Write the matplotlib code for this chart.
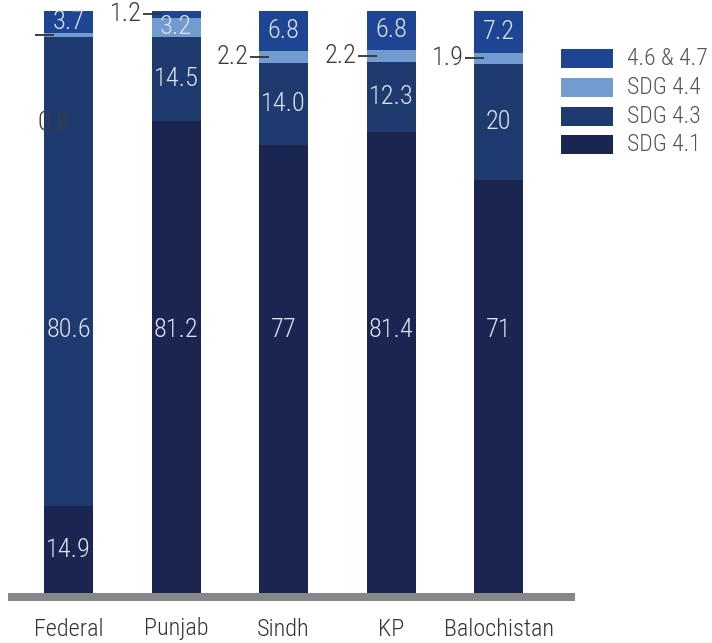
import matplotlib
matplotlib.use('Agg')
import matplotlib.pyplot as plt
from matplotlib.patches import Rectangle
from matplotlib import font_manager
import numpy as np

# ---------------- data ----------------
categories = ['Federal', 'Punjab', 'Sindh', 'KP', 'Balochistan']
series_names = ['SDG 4.1', 'SDG 4.3', 'SDG 4.4', '4.6 & 4.7']
sdg41 = [14.9, 81.2, 77, 81.4, 71]
sdg43 = [80.6, 14.5, 14.0, 12.3, 20]
sdg44 = [0.8, 3.2, 2.2, 2.2, 1.9]
sdg4647 = [3.7, 1.2, 6.8, 6.8, 7.2]
series_values = [sdg41, sdg43, sdg44, sdg4647]

# ---------------- style ----------------
colors = ['#1a2651', '#1f3a6f', '#729bd2', '#1d4593']
names = {f.name for f in font_manager.fontManager.ttflist}
cands = ['Roboto Condensed', 'Liberation Sans Narrow', 'Roboto', 'DejaVu Sans']
FONT = [c for c in cands if c in names] or ['DejaVu Sans']
plt.rcParams['font.family'] = FONT
WEIGHT = 'light'

W, H, DPI = 712, 643, 100
fig = plt.figure(figsize=(W / DPI, H / DPI), dpi=DPI)
ax_left, ax_bottom, ax_w, ax_h = 8, 50, 567, 582   # pixels
ax = fig.add_axes([ax_left / W, ax_bottom / H, ax_w / W, ax_h / H])

spacing_px = 107.5
center0_px = 68.5
x_lo = -(center0_px - ax_left) / spacing_px
x_hi = x_lo + ax_w / spacing_px
ax.set_xlim(x_lo, x_hi)
ax.set_ylim(0, 100)
ax.axis('off')

bw = 49 / spacing_px
px_x = 1 / spacing_px          # one pixel in data-x
px_y = 100 / ax_h              # one pixel in data-y

x = np.arange(len(categories))
totals = np.sum(np.array(series_values, dtype=float), axis=0)
bottoms = np.zeros(len(categories))

label_color_in = '#dfe5f0'
label_color_out = '#3c3c3c'
fs_val = 19

for s, (name, vals) in enumerate(zip(series_names, series_values)):
    vals = np.array(vals, dtype=float)
    heights = vals / totals * 100
    ax.bar(x, heights, bw, bottom=bottoms, color=colors[s], linewidth=0)
    for i, v in enumerate(vals):
        txt = str(series_values[s][i])
        yc = bottoms[i] + heights[i] / 2
        if v >= 2.5:
            if heights[i] > 50:
                yc = (593 - 330) * px_y
            ax.text(x[i], yc, txt, ha='center', va='center', color=label_color_in,
                    fontsize=fs_val, fontweight=WEIGHT)
        else:
            left = x[i] - bw / 2
            ax.plot([left - 9 * px_x, left + 10 * px_x], [yc, yc], color='#333333',
                    lw=1.3, solid_capstyle='butt', clip_on=False)
            if i == 0:
                tx, ty, ha = left - 9 * px_x + 18 * px_x, yc - 88 * px_y, 'center'
            else:
                tx, ty, ha = left - 10 * px_x, yc, 'right'
            ax.text(tx, ty, txt, ha=ha, va='center', color=label_color_out,
                    fontsize=fs_val, fontweight=WEIGHT, clip_on=False)
    bottoms += heights

# baseline
ax.add_patch(Rectangle((0, -8 / ax_h), 1, 8 / ax_h, transform=ax.transAxes,
                       color='#868789', linewidth=0, clip_on=False))

# category labels
for i, c in enumerate(categories):
    ax.text(x[i], -36 * px_y, c, ha='center', va='center', color='#333333',
            fontsize=17.5, fontweight=WEIGHT, clip_on=False)

# legend (manual, in figure pixels)
leg_x, leg_w, leg_h = 561, 52, 19
leg_tops = [49, 78, 107, 135]
for k, s in enumerate([3, 2, 1, 0]):
    top = leg_tops[k]
    fig.add_artist(Rectangle((leg_x / W, (H - top - leg_h) / H), leg_w / W, leg_h / H,
                             transform=fig.transFigure, color=colors[s], linewidth=0))
    fig.text(627 / W, (H - top - leg_h / 2) / H, series_names[s], ha='left', va='center',
             color='#555555', fontsize=17, fontweight=WEIGHT)

fig.savefig('out.png', dpi=DPI)
